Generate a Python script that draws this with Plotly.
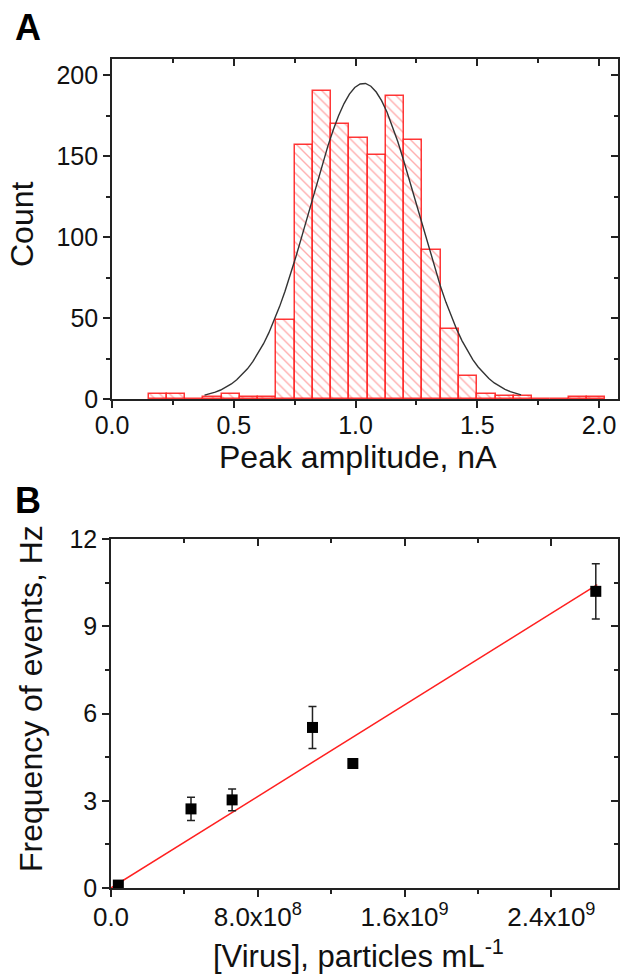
import numpy as np
import plotly.graph_objects as go

# ---------------- Panel A data ----------------
BIN_WIDTH = 0.075
bin_left = [0.15, 0.225, 0.3, 0.375, 0.45, 0.525, 0.6, 0.675, 0.75, 0.825, 0.9, 0.975,
            1.05, 1.125, 1.2, 1.275, 1.35, 1.425, 1.5, 1.575, 1.65, 1.725, 1.8, 1.875, 1.95]
counts = [3, 3, 0, 1, 3, 1, 1, 49, 157, 190, 170, 161,
          151, 187, 160, 92, 43, 14, 3, 2, 2, 0, 0, 1, 1]
# Gaussian fit parameters
fit_center = 1.033
fit_sigma = 0.22
fit_amp = 195.0
fit_from, fit_to = 0.38, 1.68

a_xticks = [0.0, 0.5, 1.0, 1.5, 2.0]
a_xticktext = ["0.0", "0.5", "1.0", "1.5", "2.0"]
a_yticks = [0, 50, 100, 150, 200]

# ---------------- Panel B data ----------------
virus_conc = [4.0e7, 4.36e8, 6.6e8, 1.098e9, 1.318e9, 2.642e9]
frequency = [0.1, 2.72, 3.03, 5.52, 4.28, 10.2]
freq_err = [0.0, 0.4, 0.37, 0.72, 0.0, 0.95]
fit_line_x = [0.0, 2.65e9]
fit_line_y = [0.0, 10.43]

b_xticks = [0.0, 8.0e8, 1.6e9, 2.4e9]
b_xticktext = ["0.0", "8.0x10<sup>8</sup>", "1.6x10<sup>9</sup>", "2.4x10<sup>9</sup>"]
b_yticks = [0, 3, 6, 9, 12]

FONT = "Liberation Sans, Arial, sans-serif"
AX = "#222222"
W, H = 625, 976

def px_x(p):
    return p / W

def px_y(p):
    return 1 - p / H

a_dom_x = [px_x(112), px_x(618)]
a_dom_y = [px_y(399), px_y(59)]
b_dom_x = [px_x(111), px_x(618)]
b_dom_y = [px_y(888), px_y(539)]
a_xrange = [0, 2.078]
a_yrange = [0, 210]
b_xrange = [0, 2.763e9]
b_yrange = [0, 12]

fig = go.Figure()

centers = [l + BIN_WIDTH / 2 for l in bin_left]
fig.add_trace(go.Bar(
    x=centers, y=counts, width=BIN_WIDTH,
    marker=dict(color="white",
                line=dict(color="rgba(255,20,20,0.85)", width=1.5),
                pattern=dict(shape="\\", fgcolor="rgba(255,60,60,0.85)", bgcolor="white",
                             size=7, solidity=0.2, fillmode="overlay")),
    xaxis="x", yaxis="y", showlegend=False, hoverinfo="x+y"))

gx = np.linspace(fit_from, fit_to, 60)
gy = fit_amp * np.exp(-0.5 * ((gx - fit_center) / fit_sigma) ** 2)
fig.add_trace(go.Scatter(x=gx, y=gy, mode="lines", line=dict(color="#333333", width=1.4),
                         xaxis="x", yaxis="y", showlegend=False))

fig.add_trace(go.Scatter(x=fit_line_x, y=fit_line_y, mode="lines",
                         line=dict(color="#ff2020", width=1.5),
                         xaxis="x2", yaxis="y2", showlegend=False))
fig.add_trace(go.Scatter(x=virus_conc, y=frequency, mode="markers",
                         marker=dict(symbol="square", size=11, color="black"),
                         error_y=dict(type="data", array=freq_err, visible=True,
                                      color="#222222", thickness=1.5, width=4),
                         xaxis="x2", yaxis="y2", showlegend=False))

# helper empty traces so mirrored tick axes are drawn
for xa, ya in [("x3", "y"), ("x", "y3"), ("x4", "y2"), ("x2", "y4")]:
    fig.add_trace(go.Scatter(x=[], y=[], xaxis=xa, yaxis=ya, showlegend=False))

tickfont = dict(family=FONT, size=25, color="#111111")

def main_axis(domain, rng, tickvals, ticktext, minor_dtick, anchor, side, standoff=0):
    d = dict(domain=domain, range=rng, tickmode="array", tickvals=tickvals,
             showline=True, linecolor=AX, linewidth=1.6, mirror=True,
             ticks="outside", ticklen=7, tickwidth=1.5, tickcolor=AX, automargin=False,
             tickfont=tickfont, showgrid=False, zeroline=False, anchor=anchor, side=side,
             ticklabelstandoff=standoff,
             minor=dict(ticks="outside", ticklen=4, tickwidth=1.5, tickcolor=AX,
                        dtick=minor_dtick, tick0=0, showgrid=False))
    if ticktext is not None:
        d["ticktext"] = ticktext
    return d

def mirror_axis(over, rng, tickvals, minor_dtick, anchor, side):
    return dict(overlaying=over, range=rng, tickmode="array", tickvals=tickvals,
                showticklabels=False, showline=False, ticks="inside", ticklen=7,
                tickwidth=1.5, tickcolor=AX, showgrid=False, zeroline=False,
                anchor=anchor, side=side, automargin=False,
                minor=dict(ticks="inside", ticklen=4, tickwidth=1.5, tickcolor=AX,
                           dtick=minor_dtick, tick0=0, showgrid=False))

fig.update_layout(
    width=W, height=H, margin=dict(l=0, r=0, t=0, b=0, autoexpand=False),
    paper_bgcolor="white", plot_bgcolor="white", showlegend=False,
    bargap=0,
    xaxis=main_axis(a_dom_x, a_xrange, a_xticks, a_xticktext, 0.25, "y", "bottom", -4),
    yaxis=main_axis(a_dom_y, a_yrange, a_yticks, None, 25, "x", "left"),
    xaxis2=main_axis(b_dom_x, b_xrange, b_xticks, b_xticktext, 4e8, "y2", "bottom", -2),
    yaxis2=main_axis(b_dom_y, b_yrange, b_yticks, None, 1.5, "x2", "left"),
    xaxis3=mirror_axis("x", a_xrange, a_xticks, 0.25, "y", "top"),
    yaxis3=mirror_axis("y", a_yrange, a_yticks, 25, "x", "right"),
    xaxis4=mirror_axis("x2", b_xrange, b_xticks, 4e8, "y2", "top"),
    yaxis4=mirror_axis("y2", b_yrange, b_yticks, 1.5, "x2", "right"),
)
fig.update_xaxes(tickfont=dict(size=26), selector=dict(anchor="y2", side="bottom"))

titlefont = dict(family=FONT, size=32, color="#111111")
ann = [
    dict(text="<b>A</b>", x=px_x(13), y=px_y(5), xanchor="left", yanchor="top",
         font=dict(family=FONT, size=36, color="black")),
    dict(text="<b>B</b>", x=px_x(13), y=px_y(478), xanchor="left", yanchor="top",
         font=dict(family=FONT, size=36, color="black")),
    dict(text="Count", x=px_x(22), y=px_y(224), textangle=-90, xanchor="center",
         yanchor="middle", font=titlefont),
    dict(text="Peak amplitude, nA", x=px_x(358), y=px_y(457), xanchor="center",
         yanchor="middle", font=titlefont),
    dict(text="Frequency of events, Hz", x=px_x(31), y=px_y(699), textangle=-90,
         xanchor="center", yanchor="middle", font=titlefont),
    dict(text="[Virus], particles mL<sup>-1</sup>", x=px_x(358), y=px_y(976),
         xanchor="center", yanchor="bottom", font=dict(family=FONT, size=31, color="#111111")),
]
for a in ann:
    a.update(xref="paper", yref="paper", showarrow=False)
fig.update_layout(annotations=ann)

fig.write_html("out.html")
